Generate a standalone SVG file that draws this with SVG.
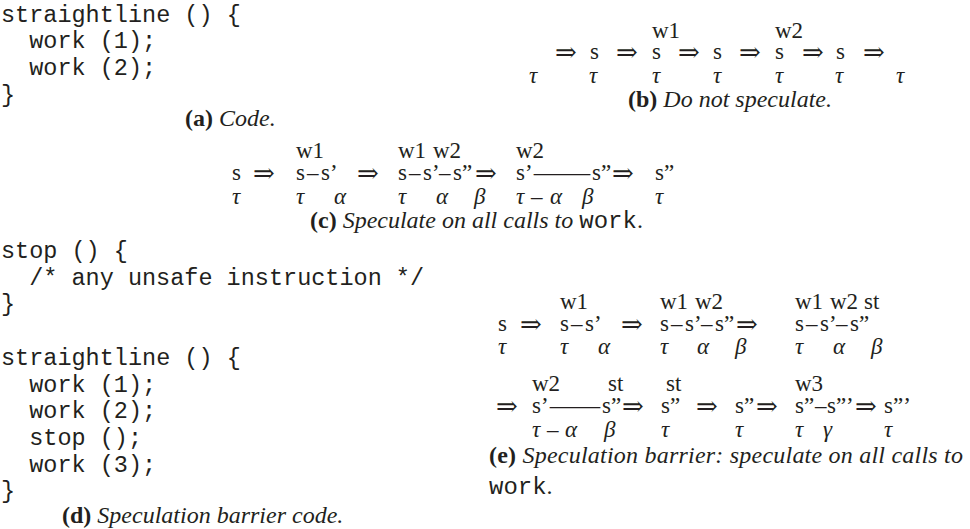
<svg xmlns="http://www.w3.org/2000/svg" width="970" height="529" viewBox="0 0 970 529">
<style>
text{fill:#231f20}
.code{font-family:"Liberation Mono",monospace;font-size:23.5px}
.m{font-family:"Liberation Serif",serif;font-size:23px}
.g{font-family:"Liberation Serif",serif;font-size:23px;font-style:italic}
.ar{font-family:"DejaVu Serif",serif;font-size:26px}
.cap{font-family:"Liberation Serif",serif;font-size:24px}
.b{font-weight:bold}
.i{font-style:italic}
.tt{font-family:"Liberation Mono",monospace}
</style>
<rect width="970" height="529" fill="#fff"/>

<g id="panel-a">
<text class="code" x="1" y="21.7">straightline () {</text>
<text class="code" x="29.2" y="48.3">work (1);</text>
<text class="code" x="29.2" y="75">work (2);</text>
<text class="code" x="1" y="101.7">}</text>
<text class="cap" x="185" y="126"><tspan class="b">(a)</tspan><tspan class="i"> Code.</tspan></text>
</g>

<g id="panel-b">
<text class="m" x="652" y="38">w1</text>
<text class="m" x="775" y="38">w2</text>
<text class="ar" x="555" y="61">⇒</text>
<text class="m" x="590" y="59">s</text>
<text class="ar" x="616" y="61">⇒</text>
<text class="m" x="652" y="59">s</text>
<text class="ar" x="678" y="61">⇒</text>
<text class="m" x="713" y="59">s</text>
<text class="ar" x="739" y="61">⇒</text>
<text class="m" x="775" y="59">s</text>
<text class="ar" x="802" y="61">⇒</text>
<text class="m" x="836" y="59">s</text>
<text class="ar" x="863" y="61">⇒</text>
<text class="g" x="529 589 652 713 775 835 896" y="83">τττττττ</text>
<text class="cap" x="628" y="107"><tspan class="b">(b)</tspan><tspan class="i"> Do not speculate.</tspan></text>
</g>

<g id="panel-c">
<text class="m" x="296" y="158">w1</text>
<text class="m" x="398" y="158">w1</text>
<text class="m" x="433" y="158">w2</text>
<text class="m" x="516" y="158">w2</text>
<text class="m" x="232" y="180">s</text>
<text class="ar" x="253" y="182">⇒</text>
<text class="m" x="296 307 321" y="180">s–s’</text>
<text class="ar" x="357" y="182">⇒</text>
<text class="m" x="398 409 423 432 439 453" y="180">s–s’–s”</text>
<text class="ar" x="475" y="182">⇒</text>
<text class="m" x="516" y="180">s’</text>
<text class="m" x="534" y="180" textLength="56" lengthAdjust="spacingAndGlyphs">—</text>
<text class="m" x="592" y="180">s”</text>
<text class="ar" x="612" y="182">⇒</text>
<text class="m" x="655" y="180">s”</text>
<text class="g" x="232 296 334 398 436 474" y="204">τταταβ</text>
<text class="g" x="516 531 550" y="204">τ–α</text>
<text class="g" x="582" y="204">β</text>
<text class="g" x="655" y="204">τ</text>
<text class="cap" x="310" y="228"><tspan class="b">(c)</tspan><tspan class="i"> Speculate on all calls to </tspan><tspan class="tt">work</tspan>.</text>
</g>

<g id="panel-d">
<text class="code" x="1" y="258">stop () {</text>
<text class="code" x="29.2" y="284.7">/* any unsafe instruction */</text>
<text class="code" x="1" y="311.4">}</text>
<text class="code" x="1" y="364.8">straightline () {</text>
<text class="code" x="29.2" y="391.5">work (1);</text>
<text class="code" x="29.2" y="418.2">work (2);</text>
<text class="code" x="29.2" y="444.9">stop ();</text>
<text class="code" x="29.2" y="471.6">work (3);</text>
<text class="code" x="1" y="498.3">}</text>
<text class="cap" x="62" y="523"><tspan class="b">(d)</tspan><tspan class="i"> Speculation barrier code.</tspan></text>
</g>

<g id="panel-e">
<text class="m" x="560" y="309">w1</text>
<text class="m" x="660" y="309">w1</text>
<text class="m" x="695" y="309">w2</text>
<text class="m" x="795" y="309">w1</text>
<text class="m" x="830" y="309">w2</text>
<text class="m" x="864" y="309">st</text>
<text class="m" x="498" y="331">s</text>
<text class="ar" x="520" y="333">⇒</text>
<text class="m" x="560 571 585" y="331">s–s’</text>
<text class="ar" x="621" y="333">⇒</text>
<text class="m" x="660 671 685 694 701 715" y="331">s–s’–s”</text>
<text class="ar" x="736" y="333">⇒</text>
<text class="m" x="795 806 820 829 836 850" y="331">s–s’–s”</text>
<text class="g" x="498 560 598 660 697 735 795 833 871" y="354">τταταβταβ</text>

<text class="m" x="532" y="391">w2</text>
<text class="m" x="608" y="391">st</text>
<text class="m" x="666" y="391">st</text>
<text class="m" x="795" y="391">w3</text>
<text class="ar" x="496" y="415">⇒</text>
<text class="m" x="532" y="413">s’</text>
<text class="m" x="550" y="413" textLength="50" lengthAdjust="spacingAndGlyphs">—</text>
<text class="m" x="602" y="413">s”</text>
<text class="ar" x="622" y="415">⇒</text>
<text class="m" x="661" y="413">s”</text>
<text class="ar" x="696" y="415">⇒</text>
<text class="m" x="735" y="413">s”</text>
<text class="ar" x="756" y="415">⇒</text>
<text class="m" x="795 804 815 827 836 846" y="413">s”–s”’</text>
<text class="ar" x="855" y="415">⇒</text>
<text class="m" x="884" y="413">s”’</text>
<text class="g" x="532 547 565" y="437">τ–α</text>
<text class="g" x="604 661 735 795 823 884" y="437">βτττγτ</text>
<text class="cap" x="489" y="463" textLength="474" lengthAdjust="spacing"><tspan class="b">(e)</tspan><tspan class="i"> Speculation barrier: speculate on all calls to</tspan></text>
<text class="cap" x="489" y="494"><tspan class="tt">work</tspan>.</text>
</g>
</svg>
